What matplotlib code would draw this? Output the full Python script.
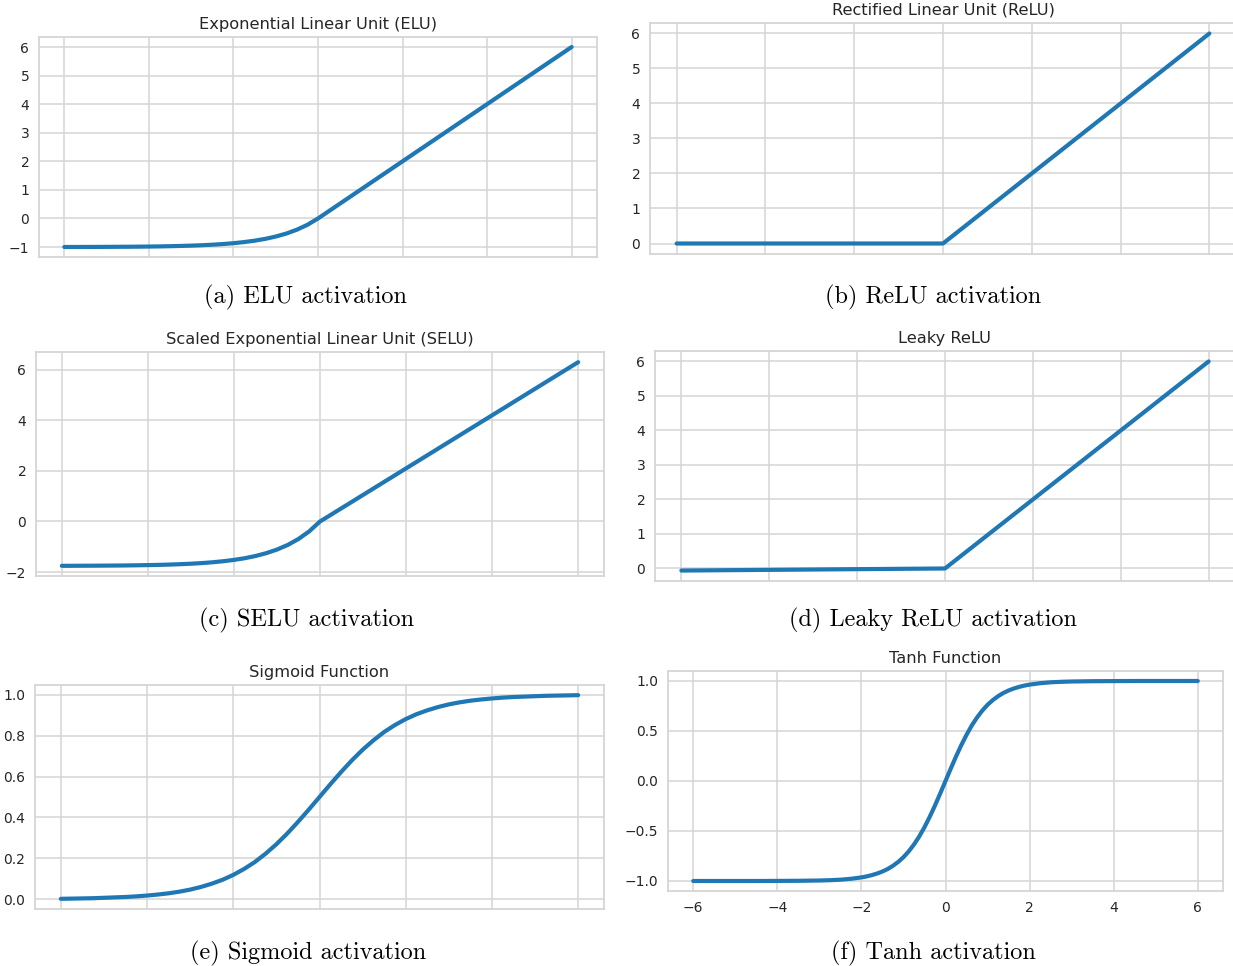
import matplotlib
matplotlib.use("Agg")
import matplotlib.pyplot as plt
import seaborn as sns

sns.set_style("whitegrid")
plt.rcParams["font.family"] = ["DejaVu Sans"]

# ---------------- data ----------------
x_neg = [-6.0, -5.75, -5.5, -5.25, -5.0, -4.75, -4.5, -4.25, -4.0, -3.75, -3.5,
         -3.25, -3.0, -2.75, -2.5, -2.25, -2.0, -1.75, -1.5, -1.25, -1.0, -0.75,
         -0.5, -0.25, 0.0]
x_full = x_neg + [0.25, 0.5, 0.75, 1.0, 1.25, 1.5, 1.75, 2.0, 2.25, 2.5, 2.75, 3.0,
                  3.25, 3.5, 3.75, 4.0, 4.25, 4.5, 4.75, 5.0, 5.25, 5.5, 5.75, 6.0]

elu_x = x_neg + [6.0]
elu_y = [-0.998, -0.997, -0.996, -0.995, -0.993, -0.991, -0.989, -0.986, -0.982,
         -0.977, -0.970, -0.961, -0.950, -0.936, -0.918, -0.895, -0.865, -0.826,
         -0.777, -0.714, -0.632, -0.528, -0.393, -0.221, 0.0, 6.0]

relu_x = [-6.0, 0.0, 6.0]
relu_y = [0.0, 0.0, 6.0]

selu_x = x_neg + [6.0]
selu_y = [-1.754, -1.753, -1.751, -1.749, -1.746, -1.743, -1.739, -1.733, -1.726,
          -1.717, -1.705, -1.690, -1.671, -1.646, -1.614, -1.573, -1.520, -1.453,
          -1.366, -1.254, -1.111, -0.928, -0.692, -0.389, 0.0, 6.304]

leaky_x = [-6.0, 0.0, 6.0]
leaky_y = [-0.06, 0.0, 6.0]

sigmoid_x = x_full
sigmoid_y = [0.002, 0.003, 0.004, 0.005, 0.007, 0.009, 0.011, 0.014, 0.018, 0.023,
             0.029, 0.037, 0.047, 0.060, 0.076, 0.095, 0.119, 0.148, 0.182, 0.223,
             0.269, 0.321, 0.378, 0.438, 0.500, 0.562, 0.622, 0.679, 0.731, 0.777,
             0.818, 0.852, 0.881, 0.905, 0.924, 0.940, 0.953, 0.963, 0.971, 0.977,
             0.982, 0.986, 0.989, 0.991, 0.993, 0.995, 0.996, 0.997, 0.998]

tanh_x = [-6.0, -5.5, -5.0, -4.5, -4.0, -3.5, -3.0, -2.75, -2.5, -2.25, -2.0,
          -1.875, -1.75, -1.625, -1.5, -1.375, -1.25, -1.125, -1.0, -0.875, -0.75,
          -0.625, -0.5, -0.375, -0.25, -0.125, 0.0, 0.125, 0.25, 0.375, 0.5, 0.625,
          0.75, 0.875, 1.0, 1.125, 1.25, 1.375, 1.5, 1.625, 1.75, 1.875, 2.0, 2.25,
          2.5, 2.75, 3.0, 3.5, 4.0, 4.5, 5.0, 5.5, 6.0]
tanh_y = [-1.000, -1.000, -1.000, -1.000, -0.999, -0.998, -0.995, -0.992, -0.987,
          -0.978, -0.964, -0.954, -0.941, -0.925, -0.905, -0.880, -0.848, -0.809,
          -0.762, -0.704, -0.635, -0.555, -0.462, -0.358, -0.245, -0.124, 0.000,
          0.124, 0.245, 0.358, 0.462, 0.555, 0.635, 0.704, 0.762, 0.809, 0.848,
          0.880, 0.905, 0.925, 0.941, 0.954, 0.964, 0.978, 0.987, 0.992, 0.995,
          0.998, 0.999, 1.000, 1.000, 1.000, 1.000]

titles = ["Exponential Linear Unit (ELU)", "Rectified Linear Unit (ReLU)",
          "Scaled Exponential Linear Unit (SELU)", "Leaky ReLU",
          "Sigmoid Function", "Tanh Function"]
captions = ["(a) ELU activation", "(b) ReLU activation", "(c) SELU activation",
            "(d) Leaky ReLU activation", "(e) Sigmoid activation", "(f) Tanh activation"]
x_ticks = [-6, -4, -2, 0, 2, 4, 6]
y_ticks = [[-1, 0, 1, 2, 3, 4, 5, 6], [0, 1, 2, 3, 4, 5, 6], [-2, 0, 2, 4, 6],
           [0, 1, 2, 3, 4, 5, 6], [0.0, 0.2, 0.4, 0.6, 0.8, 1.0], [-1.0, -0.5, 0.0, 0.5, 1.0]]
y_fmt = ["{:.0f}", "{:.0f}", "{:.0f}", "{:.0f}", "{:.1f}", "{:.1f}"]

series = [(elu_x, elu_y), (relu_x, relu_y), (selu_x, selu_y),
          (leaky_x, leaky_y), (sigmoid_x, sigmoid_y), (tanh_x, tanh_y)]

# ---------------- layout ----------------
W, H = 1233, 966
fig = plt.figure(figsize=(W / 100, H / 100), dpi=100)

boxes = [(39, 37, 597, 257), (650, 23, 1236, 254),
         (36, 352, 604, 576), (655, 351, 1235, 581),
         (35, 685, 604, 909), (668, 671, 1223, 891)]
caption_pos = [(306, 297), (933, 297), (307, 620), (933, 620), (308, 953), (933, 953)]

for i, (l, t, r, b) in enumerate(boxes):
    ax = fig.add_axes([l / W, 1 - b / H, (r - l) / W, (b - t) / H])
    xs, ys = series[i]
    ax.plot(xs, ys, color="#1f77b4", lw=3.0)
    ax.set_xlim(-6.6, 6.6)
    ax.set_xticks(x_ticks)
    ax.set_yticks(y_ticks[i])
    ax.set_yticklabels([y_fmt[i].format(v).replace("-", "\u2212") for v in y_ticks[i]])
    if i < 5:
        ax.set_xticklabels([])
    else:
        ax.set_xticklabels([str(v).replace("-", "\u2212") for v in x_ticks])
    ax.tick_params(axis="both", length=0, labelsize=10, labelcolor="#262626")
    ax.tick_params(axis="y", pad=7)
    ax.tick_params(axis="x", pad=7)
    ax.grid(True, color="#d5d5d5", lw=1.1)
    for sp in ax.spines.values():
        sp.set_color("#d5d5d5")
        sp.set_linewidth(1.3)
    ax.set_title(titles[i], fontsize=11.7, color="#262626", pad=6)
    cx, cy = caption_pos[i]
    fig.text(cx / W, 1 - cy / H, captions[i], family="cmr10", fontsize=17.5,
             ha="center", va="center", color="black")

fig.savefig("out.png", dpi=100)
